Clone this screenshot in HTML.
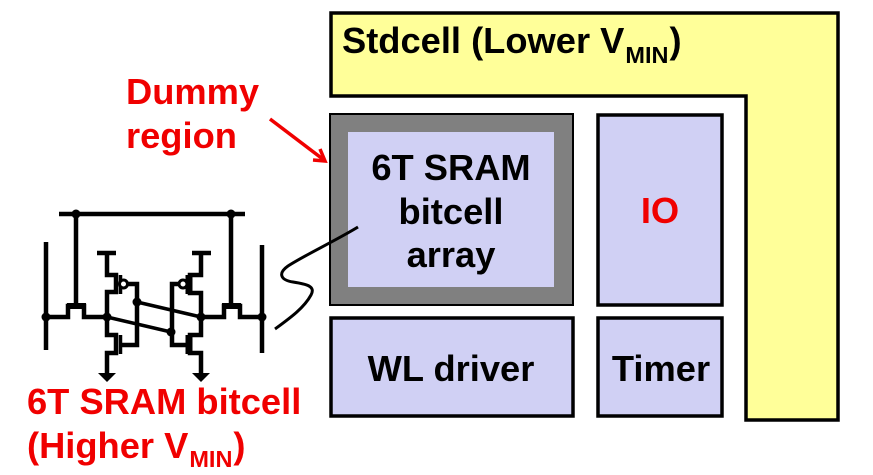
<!DOCTYPE html>
<html>
<head>
<meta charset="utf-8">
<style>
html,body{margin:0;padding:0;background:#fff;}
svg{display:block;}
text{font-family:"Liberation Sans",sans-serif;font-weight:bold;}
</style>
</head>
<body>
<svg width="873" height="475" viewBox="0 0 873 475" xmlns="http://www.w3.org/2000/svg">
<!-- Stdcell -->
<polygon points="331,13 838,13 838,420 746,420 746,96 331,96" fill="#ffff99" stroke="#000" stroke-width="3.5"/>
<text x="342" y="53" font-size="36.3" fill="#000">Stdcell (Lower V<tspan font-size="23.5" dy="10" dx="1">MIN</tspan><tspan dy="-10" dx="1">)</tspan></text>
<!-- Array -->
<rect x="330" y="114" width="243" height="191" fill="#808080" stroke="#000" stroke-width="2"/>
<rect x="348" y="132" width="206" height="155" fill="#d0d0f4"/>
<text x="451" y="180" font-size="36.3" fill="#000" text-anchor="middle">6T SRAM</text>
<text x="451" y="224" font-size="36.3" fill="#000" text-anchor="middle">bitcell</text>
<text x="451" y="267" font-size="36.3" fill="#000" text-anchor="middle">array</text>
<!-- IO -->
<rect x="598" y="115" width="124" height="190" fill="#d0d0f4" stroke="#000" stroke-width="3.5"/>
<text x="660" y="223" font-size="36.3" fill="#f00000" text-anchor="middle">IO</text>
<!-- WL driver -->
<rect x="331" y="318" width="242" height="98" fill="#d0d0f4" stroke="#000" stroke-width="3.5"/>
<text x="451" y="381" font-size="36.3" fill="#000" text-anchor="middle">WL driver</text>
<!-- Timer -->
<rect x="598" y="318" width="124" height="98" fill="#d0d0f4" stroke="#000" stroke-width="3.5"/>
<text x="661" y="381" font-size="36.3" fill="#000" text-anchor="middle">Timer</text>
<!-- Dummy region -->
<text x="126" y="104" font-size="36.3" fill="#f00000">Dummy</text>
<text x="126" y="148" font-size="36.3" fill="#f00000">region</text>
<line x1="270" y1="119" x2="324" y2="160" stroke="#f00000" stroke-width="3.5"/>
<polyline points="313,160 325,161 320,149" fill="none" stroke="#f00000" stroke-width="3.5"/>
<!-- Squiggle -->
<path d="M358,227 C335,241 305,255 288,266 C278,273 280,280 293,282 C306,284 316,286 311,295 C304,308 290,318 275,329" fill="none" stroke="#000" stroke-width="3"/>
<!-- Circuit -->
<g fill="none" stroke="#000" stroke-width="4.5">
<line x1="59" y1="214" x2="245" y2="214"/>
<line x1="76" y1="214" x2="76" y2="305"/>
<line x1="231" y1="214" x2="231" y2="305"/>
<line x1="46" y1="242" x2="46" y2="350"/>
<line x1="262" y1="245" x2="262" y2="353"/>
<!-- left pass transistor -->
<polyline points="46,317 68,317 68,306 84,306 84,317 107,317"/>
<line x1="67" y1="306" x2="86" y2="306" stroke-width="6"/>
<!-- right pass transistor -->
<polyline points="262,317 240,317 240,306 224,306 224,317 201,317"/>
<line x1="222" y1="306" x2="241" y2="306" stroke-width="6"/>
<!-- left inverter -->
<line x1="97" y1="253" x2="116" y2="253"/>
<polyline points="107,253 107,275 116,275 116,292 107,292 107,335 116,335 116,353 107,353 107,374"/>
<line x1="120.5" y1="275" x2="120.5" y2="294" stroke-width="3.5"/>
<line x1="120.5" y1="335" x2="120.5" y2="354" stroke-width="3.5"/>
<polyline points="127,284 137,284 137,345 121,345"/>
<!-- right inverter -->
<line x1="192" y1="253" x2="211" y2="253"/>
<polyline points="201,253 201,275 190,275 190,293 201,293 201,335 190,335 190,353 201,353 201,374"/>
<line x1="189" y1="275" x2="189" y2="294" stroke-width="7"/>
<line x1="189" y1="335" x2="189" y2="354" stroke-width="7"/>
<polyline points="179,284 172,284 172,345 187,345"/>
<!-- cross couple -->
<line x1="137" y1="302" x2="201" y2="317" stroke-width="3.5"/>
<line x1="107" y1="317" x2="171" y2="332" stroke-width="3.5"/>
</g>
<circle cx="123.5" cy="284" r="4" fill="#fff" stroke="#000" stroke-width="3"/>
<circle cx="183" cy="284" r="4" fill="#fff" stroke="#000" stroke-width="3"/>
<g fill="#000">
<circle cx="76" cy="214" r="4.5"/>
<circle cx="231" cy="214" r="4.5"/>
<circle cx="46" cy="317" r="4.5"/>
<circle cx="107" cy="317" r="4.5"/>
<circle cx="201" cy="317" r="4.5"/>
<circle cx="262" cy="317" r="4.5"/>
<circle cx="137" cy="302" r="4.5"/>
<circle cx="171" cy="332" r="4.5"/>
<polygon points="98,373 116,373 107,382"/>
<polygon points="192,373 210,373 201,382"/>
</g>
<!-- Caption -->
<text x="27" y="414" font-size="36.3" fill="#f00000">6T SRAM bitcell</text>
<text x="27" y="458" font-size="36.3" fill="#f00000">(Higher V<tspan font-size="23.5" dy="9" dx="1">MIN</tspan><tspan dy="-9" dx="1">)</tspan></text>
</svg>
</body>
</html>
